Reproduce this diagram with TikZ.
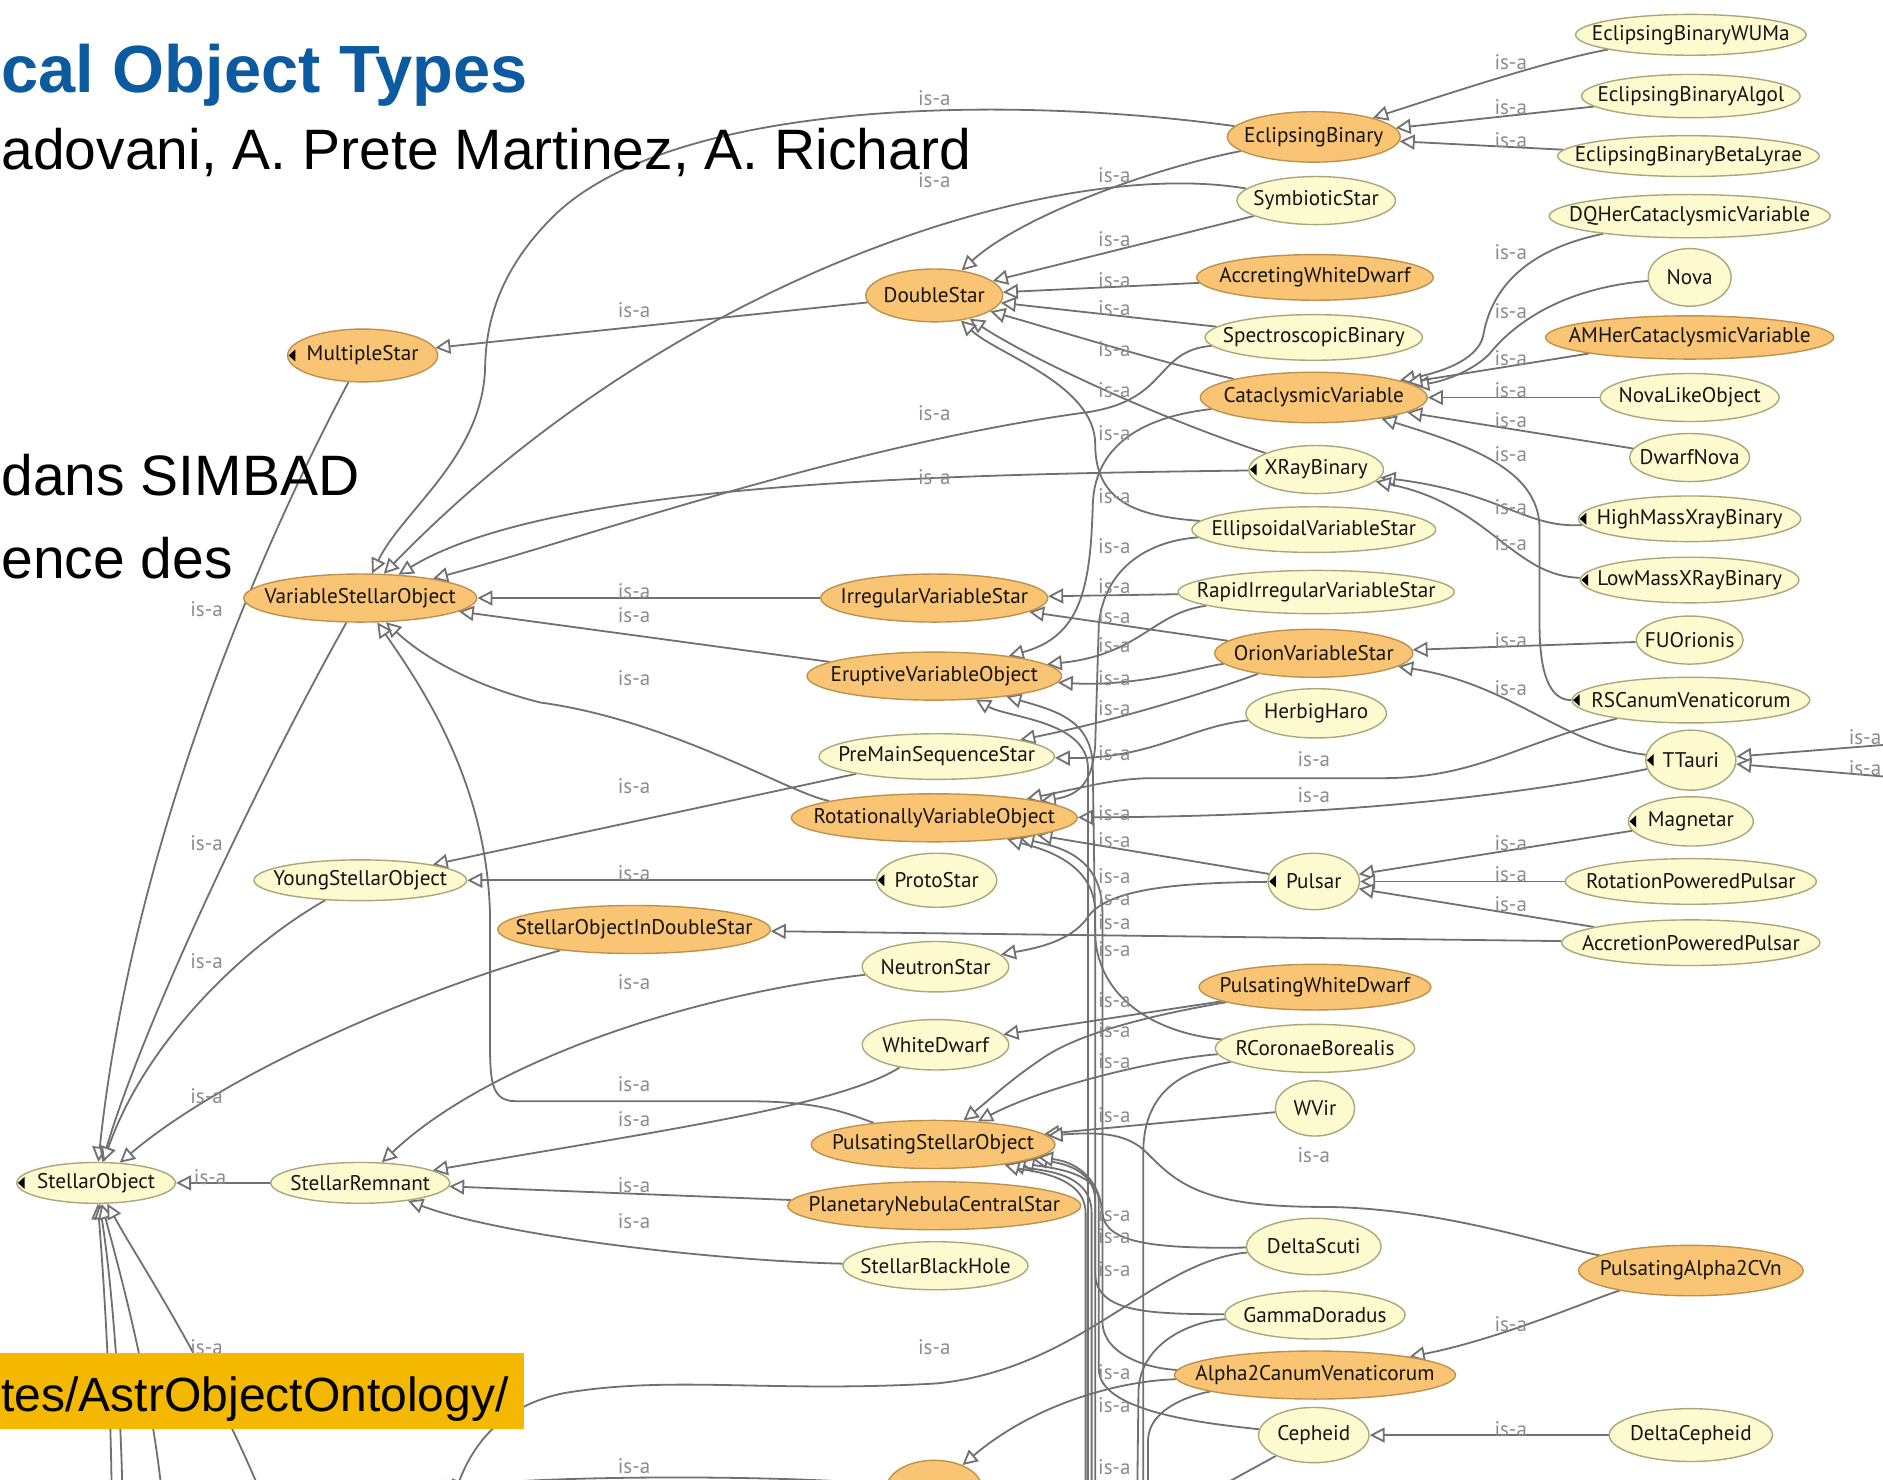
\documentclass[tikz,border=0pt]{standalone}
\usepackage{fontspec}
\setmainfont{Liberation Sans}
\newfontfamily\nodefont{PT Sans}
\usetikzlibrary{shapes.geometric,arrows.meta,backgrounds}
\definecolor{orfill}{RGB}{249,196,115}
\definecolor{ordraw}{RGB}{190,145,78}
\definecolor{ylfill}{RGB}{252,250,206}
\definecolor{yldraw}{RGB}{170,168,122}
\definecolor{edgec}{RGB}{112,112,112}
\definecolor{isac}{RGB}{140,140,140}
\definecolor{titleblue}{RGB}{12,90,160}
\definecolor{bannerc}{RGB}{245,184,0}
\newcommand\pxu{0.60045pt}
\tikzset{
  orn/.style={ellipse, draw=ordraw, fill=orfill, line width=0.7pt, inner sep=0pt},
  yln/.style={ellipse, draw=yldraw, fill=ylfill, line width=0.7pt, inner sep=0pt},
  txt/.style={font=\nodefont\fontsize{10.6}{12}\selectfont, text=black!92, inner sep=0pt},
  isa/.style={draw=edgec, line width=0.9pt, -{Triangle[length=7.5pt,width=7.5pt,fill=white]}},
  isalbl/.style={font=\nodefont\fontsize{10.5}{12}\selectfont, text=isac, inner sep=0pt},
  bigtxt/.style={anchor=base west, inner sep=0pt, font=\fontsize{28.5}{32}\selectfont}
}
% class node: name, style, x, y, width, height, label
\newcommand\ent[7]{%
  \node[#2, minimum width=#5*\pxu, minimum height=#6*\pxu] (#1) at (#3,#4) {};
  \node[txt] (#1-t) at (#1.center) {#7};}
% black marker on the left side of a class
\newcommand\blip[1]{\fill[black, shift={(#1.west)}] (1.5,0) -- (7,-5) -- (7,5) -- cycle;}
\begin{document}
\begin{tikzpicture}[x=0.60045pt, y=-0.60045pt]
\useasboundingbox (0,0) rectangle (1568,1231.6);
\clip (0,0) rectangle (1568,1231.6);

% ---------- classes ----------
\ent{wuma}{yln}{1408}{29}{192}{34}{EclipsingBinaryWUMa}
\ent{algol}{yln}{1408}{80}{182}{36}{EclipsingBinaryAlgol}
\ent{blyr}{yln}{1406}{130}{218}{34}{EclipsingBinaryBetaLyrae}
\ent{eb}{orn}{1094}{114}{144}{42}{EclipsingBinary}
\ent{symb}{yln}{1096}{167}{132}{40}{SymbioticStar}
\ent{dqher}{yln}{1407}{180}{234}{36}{DQHerCataclysmicVariable}
\ent{ds}{orn}{778}{246}{114}{44}{DoubleStar}
\ent{awd}{orn}{1095}{231}{197}{38}{AccretingWhiteDwarf}
\ent{nova}{yln}{1407}{231}{69}{48}{Nova}
\ent{ms}{orn}{302}{296}{125}{44}{MultipleStar}
\ent{sb}{yln}{1094}{281}{181}{38}{SpectroscopicBinary}
\ent{amher}{orn}{1407}{281}{240}{36}{AMHerCataclysmicVariable}
\ent{cv}{orn}{1094}{331}{189}{42}{CataclysmicVariable}
\ent{nlo}{yln}{1407}{331}{149}{40}{NovaLikeObject}
\ent{dn}{yln}{1407}{381}{100}{40}{DwarfNova}
\ent{xrb}{yln}{1096}{391}{112}{40}{XRayBinary}
\ent{hmxb}{yln}{1407}{432}{185}{38}{HighMassXrayBinary}
\ent{evs}{yln}{1094}{441}{203}{38}{EllipsoidalVariableStar}
\ent{lmxb}{yln}{1407}{483}{182}{38}{LowMassXRayBinary}
\ent{vso}{orn}{300}{498}{194}{40}{VariableStellarObject}
\ent{ivs}{orn}{778}{498}{189}{40}{IrregularVariableStar}
\ent{rivs}{yln}{1096}{493}{230}{36}{RapidIrregularVariableStar}
\ent{ovs}{orn}{1094}{544}{165}{40}{OrionVariableStar}
\ent{fuo}{yln}{1407}{533}{89}{40}{FUOrionis}
\ent{evo}{orn}{778}{563}{212}{40}{EruptiveVariableObject}
\ent{hh}{yln}{1096}{594}{117}{41}{HerbigHaro}
\ent{rscvn}{yln}{1408}{583}{198}{38}{RSCanumVenaticorum}
\ent{pms}{yln}{780}{630}{196}{38}{PreMainSequenceStar}
\ent{tt}{yln}{1408}{633}{75}{50}{TTauri}
\ent{rvo}{orn}{778}{681}{238}{40}{RotationallyVariableObject}
\ent{mag}{yln}{1408}{684}{104}{41}{Magnetar}
\ent{yso}{yln}{300}{733}{177}{34}{YoungStellarObject}
\ent{proto}{yln}{780}{733}{100}{45}{ProtoStar}
\ent{pulsar}{yln}{1094}{734}{76}{47}{Pulsar}
\ent{rpp}{yln}{1408}{734}{209}{38}{RotationPoweredPulsar}
\ent{soids}{orn}{528}{774}{227}{40}{StellarObjectInDoubleStar}
\ent{app}{yln}{1408}{785}{215}{38}{AccretionPoweredPulsar}
\ent{ns}{yln}{779}{805}{122}{42}{NeutronStar}
\ent{pwd}{orn}{1095}{822}{193}{38}{PulsatingWhiteDwarf}
\ent{wd}{yln}{779}{870}{122}{42}{WhiteDwarf}
\ent{rcb}{yln}{1095}{873}{166}{40}{RCoronaeBorealis}
\ent{wvir}{yln}{1095}{923}{66}{46}{WVir}
\ent{pso}{orn}{777}{953}{203}{40}{PulsatingStellarObject}
\ent{so}{yln}{80}{985}{132}{34}{StellarObject}
\ent{sr}{yln}{300}{985}{149}{34}{StellarRemnant}
\ent{pncs}{orn}{778}{1004}{244}{40}{PlanetaryNebulaCentralStar}
\ent{dsct}{yln}{1094}{1038}{112}{47}{DeltaScuti}
\ent{pa2}{orn}{1408}{1058}{187}{42}{PulsatingAlpha2CVn}
\ent{sbh}{yln}{779}{1054}{154}{40}{StellarBlackHole}
\ent{gdor}{yln}{1095}{1095}{150}{40}{GammaDoradus}
\ent{a2cvn}{orn}{1095}{1145}{234}{40}{Alpha2CanumVenaticorum}
\ent{ceph}{yln}{1094}{1195}{92}{46}{Cepheid}
\ent{dceph}{yln}{1408}{1195}{136}{44}{DeltaCepheid}
\ent{dwarf}{orn}{778}{1240}{80}{48}{Dwarf}

\foreach \n in {ms,xrb,hmxb,lmxb,rscvn,tt,mag,proto,pulsar,so} {\blip{\n}}

% ---------- loose ends leaving the frame ----------
\coordinate (so1) at (93,1245);
\coordinate (so2) at (102,1245);
\coordinate (so3) at (135,1245);
\coordinate (so4) at (218,1245);
\coordinate (rt1) at (1585,619);
\coordinate (rt2) at (1585,648);
\coordinate (bx1) at (906,1245);
\coordinate (bx2) at (912,1245);
\coordinate (bx3) at (909,1245);
\coordinate (bx4) at (904,1245);
\coordinate (bl1) at (378,1245);
\coordinate (bl2) at (360,1240);
\coordinate (bc1) at (1003,1245);
\coordinate (bc2) at (952,1245);
\coordinate (bc3) at (947,1245);
\coordinate (bc4) at (956,1245);

% ---------- is-a edges, under the classes ----------
\begin{pgfonlayer}{background}
\clip (0,0) rectangle (1568,1231.6);
\fill[white] (0,0) rectangle (1568,1231.6);
% eclipsing and double stars
\draw[isa] (wuma) .. controls (1290,50) and (1200,80) .. (eb);
\draw[isa] (algol) -- (eb);
\draw[isa] (blyr) -- (eb);
\draw[isa] (eb) .. controls (960,140) and (850,180) .. (ds);
\draw[isa] (eb) .. controls (830,78) and (560,85) .. (462,179) .. controls (420,220) and (405,262) .. (404,304) .. controls (403,380) and (335,425) .. (vso);
\draw[isa] (symb) .. controls (880,130) and (560,230) .. (vso);
\draw[isa] (symb) -- (ds);
\draw[isa] (awd) -- (ds);
\draw[isa] (sb) -- (ds);
\draw[isa] (cv) .. controls (960,300) and (880,275) .. (ds);
\draw[isa] (xrb) .. controls (970,350) and (860,300) .. (ds);
\draw[isa] (evs) .. controls (950,430) and (912,420) .. (912,370) .. controls (912,320) and (830,295) .. (ds);
\draw[isa] (sb) .. controls (960,292) and (975,335) .. (900,344) .. controls (700,372) and (480,450) .. (vso);
\draw[isa] (xrb) .. controls (800,395) and (460,400) .. (vso);
\draw[isa] (ds) -- (ms);
% stellar object
\draw[isa] (ms) .. controls (220,450) and (110,700) .. (so);
\draw[isa] (vso) .. controls (220,640) and (120,850) .. (so);
\draw[isa] (yso) .. controls (200,790) and (120,870) .. (so);
\draw[isa] (soids) .. controls (330,830) and (180,900) .. (so);
\draw[isa] (sr) -- (so);
\draw[isa] (so1) .. controls (92,1150) and (86,1060) .. (so);
\draw[isa] (so2) .. controls (100,1150) and (92,1060) .. (so);
\draw[isa] (so3) .. controls (125,1150) and (100,1060) .. (so);
\draw[isa] (so4) .. controls (170,1130) and (115,1050) .. (so);
% variable stellar object
\draw[isa] (ivs) -- (vso);
\draw[isa] (evo) -- (vso);
\draw[isa] (rvo) .. controls (660,662) and (560,600) .. (450,585) .. controls (390,570) and (350,545) .. (vso);
\draw[isa] (pso) .. controls (700,925) and (680,917) .. (620,917) -- (430,917) .. controls (408,917) and (408,900) .. (408,860) -- (408,760) .. controls (405,650) and (350,570) .. (vso);
% stellar remnant
\draw[isa] (wd) .. controls (700,920) and (560,940) .. (sr);
\draw[isa] (ns) .. controls (560,830) and (400,890) .. (sr);
\draw[isa] (pncs) -- (sr);
\draw[isa] (sbh) .. controls (600,1050) and (420,1030) .. (sr);
% young stars, pulsars
\draw[isa] (proto) -- (yso);
\draw[isa] (pms) -- (yso);
\draw[isa] (app) -- (soids);
\draw[isa] (mag) -- (pulsar);
\draw[isa] (rpp) -- (pulsar);
\draw[isa] (app) -- (pulsar);
\draw[isa] (pulsar) -- (rvo);
\draw[isa] (pulsar) .. controls (980,735) and (920,740) .. (905,765) .. controls (890,785) and (860,790) .. (ns);
\draw[isa] (tt) .. controls (1250,665) and (1100,680) .. (rvo);
\draw[isa] (rscvn) .. controls (1260,620) and (1230,648) .. (1150,648) -- (960,648) .. controls (930,648) and (905,655) .. (rvo);
\draw[isa] (tt) .. controls (1300,620) and (1260,570) .. (ovs);
\draw[isa] (fuo) -- (ovs);
\draw[isa] (rt1) -- (tt);
\draw[isa] (rt2) -- (tt);
% irregular and eruptive
\draw[isa] (rivs) -- (ivs);
\draw[isa] (ovs) -- (ivs);
\draw[isa] (rivs) .. controls (960,510) and (950,545) .. (evo);
\draw[isa] (ovs) .. controls (1000,555) and (950,572) .. (evo);
\draw[isa] (ovs) .. controls (1010,575) and (930,600) .. (pms);
\draw[isa] (hh) .. controls (990,605) and (960,632) .. (pms);
\draw[isa] (cv) .. controls (970,345) and (912,360) .. (910,420) .. controls (908,490) and (900,530) .. (evo);
\draw[isa] (evs) .. controls (960,450) and (920,470) .. (915,520) -- (912,620) .. controls (910,650) and (900,662) .. (rvo);
\draw[isa] (rcb) .. controls (960,860) and (915,830) .. (912,780) -- (910,640) .. controls (910,600) and (880,592) .. (evo);
\draw[isa] (bx1) -- (906,640) .. controls (906,600) and (840,598) .. (evo);
\draw[isa] (bx2) -- (912,760) .. controls (912,715) and (860,705) .. (rvo);
\draw[isa] (a2cvn) .. controls (960,1140) and (918,1130) .. (918,1100) -- (918,760) .. controls (918,712) and (880,705) .. (rvo);
% pulsating stars
\draw[isa] (wvir) -- (pso);
\draw[isa] (pwd) .. controls (960,845) and (900,860) .. (870,880) .. controls (840,900) and (825,915) .. (pso);
\draw[isa] (rcb) .. controls (980,880) and (880,900) .. (pso);
\draw[isa] (pwd) -- (wd);
\draw[isa] (gdor) .. controls (960,1094) and (912,1094) .. (912,1060) -- (912,1000) .. controls (912,972) and (880,968) .. (pso);
\draw[isa] (ceph) .. controls (1000,1185) and (915,1175) .. (915,1140) -- (915,1000) .. controls (915,975) and (870,972) .. (pso);
\draw[isa] (dsct) .. controls (960,1040) and (920,1035) .. (918,1010) .. controls (916,985) and (900,968) .. (pso);
\draw[isa] (bx3) -- (909,1010) .. controls (909,975) and (865,975) .. (pso);
\draw[isa] (bx4) -- (904,1010) .. controls (904,978) and (855,975) .. (pso);
\draw[isa] (rcb) .. controls (990,890) and (952,905) .. (952,960) -- (bc2);
\draw[isa] (gdor) .. controls (990,1100) and (948,1120) .. (948,1160) -- (bc3);
\draw[isa] (a2cvn) .. controls (1000,1160) and (956,1170) .. (956,1200) -- (bc4);
\draw[isa] (ceph) -- (bc1);
\draw[isa] (a2cvn) .. controls (930,1150) and (860,1170) .. (dwarf);
\draw[isa] (dsct) .. controls (960,1050) and (900,1140) .. (780,1152) .. controls (640,1160) and (560,1145) .. (470,1160) .. controls (420,1170) and (395,1200) .. (bl1);
\draw[isa] (dwarf) .. controls (650,1228) and (450,1228) .. (bl2);
\draw[isa] (pa2) .. controls (1330,1080) and (1250,1115) .. (a2cvn);
\draw[isa] (pa2) .. controls (1300,1040) and (1200,1005) .. (1100,1005) .. controls (1000,1005) and (980,985) .. (955,960) .. controls (940,945) and (920,942) .. (pso);
\draw[isa] (dceph) -- (ceph);
% cataclysmic variables and x-ray binaries
\draw[isa] (dqher) .. controls (1260,210) and (1240,250) .. (1235,280) .. controls (1230,300) and (1200,310) .. (cv);
\draw[isa] (nova) .. controls (1300,240) and (1260,270) .. (1240,295) .. controls (1225,310) and (1200,318) .. (cv);
\draw[isa] (amher) -- (cv);
\draw[isa] (nlo) -- (cv);
\draw[isa] (dn) -- (cv);
\draw[isa] (rscvn) .. controls (1290,583) and (1282,560) .. (1282,520) -- (1282,440) .. controls (1282,390) and (1220,370) .. (cv);
\draw[isa] (hmxb) .. controls (1270,440) and (1250,410) .. (xrb);
\draw[isa] (lmxb) .. controls (1260,480) and (1240,420) .. (xrb);
\end{pgfonlayer}

% ---------- edge labels ----------
\foreach \x/\y [count=\i] in {
  778/82, 778/150, 928/146, 928/199, 928/233, 928/257, 928/291, 928/325, 928/361,
  928/413, 928/455, 928/488, 928/513, 928/537, 928/565, 928/590, 928/627, 928/677,
  928/700, 928/730, 928/748, 928/768, 928/790, 928/833, 928/858, 928/884, 928/929,
  928/1011, 928/1029, 928/1057, 928/1143, 928/1170, 928/1222,
  1258/52, 1258/89, 1258/117, 1258/210, 1258/259, 1258/298, 1258/325, 1258/350,
  1258/378, 1258/422, 1258/452, 1258/533, 1258/573, 1258/702, 1258/728, 1258/753,
  1258/1103, 1258/1190, 1094/632, 1094/662, 1094/962, 1553/614, 1553/640,
  528/258, 778/344, 778/397, 528/492, 528/512, 528/565, 528/655, 528/727, 528/818,
  528/903, 528/932, 528/987, 528/1017, 778/1122, 528/1221,
  172/507, 172/702, 172/800, 172/913, 175/980, 172/1122}
  {\node[isalbl] (isa\i) at (\x,\y) {is-a};}

% ---------- slide text ----------
\node[anchor=base west, inner sep=0pt, text=titleblue, font=\bfseries\fontsize{33.4}{36}\selectfont] (title) at (1,77) {cal Object Types};
\node[bigtxt] (authors) at (1,141) {adovani, A. Prete Martinez, A. Richard};
\node[bigtxt] (lineone) at (1,413) {dans SIMBAD};
\node[bigtxt] (linetwo) at (1,482) {ence des};
\node[fill=bannerc, anchor=north west, inner sep=0pt, minimum width=436*\pxu, minimum height=64*\pxu] (banner) at (0,1126) {};
\node[anchor=base west, inner sep=0pt, font=\fontsize{24}{28}\selectfont] (url) at (1,1175) {tes/AstrObjectOntology/};
\end{tikzpicture}
\end{document}
